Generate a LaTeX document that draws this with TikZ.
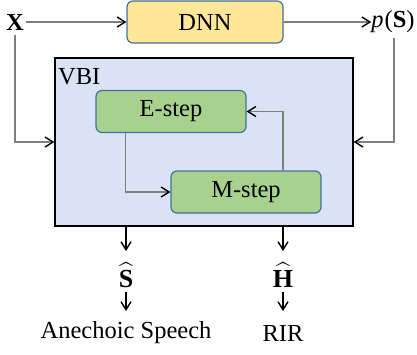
\documentclass[tikz,border=0pt]{standalone}
\usepackage{amsmath}
\usepackage{fontspec}
\setmainfont{Liberation Serif}
\usetikzlibrary{arrows.meta}

\definecolor{dnnfill}{HTML}{FFE699}
\definecolor{boxedge}{HTML}{41719C}
\definecolor{stepfill}{HTML}{A9D18E}
\definecolor{vbifill}{HTML}{DAE3F3}
\definecolor{wire}{HTML}{7F7F7F}

\tikzset{
  lbl/.style={font=\fontsize{24.5}{28}\selectfont, inner sep=0pt},
  hatlbl/.style={font=\fontsize{26}{28}\selectfont, inner sep=0pt},
  rbox/.style={lbl, draw=boxedge, line width=1.2pt, rounded corners=6pt},
  dnnbox/.style={rbox, fill=dnnfill, minimum width=156pt, minimum height=42pt},
  stepbox/.style={rbox, fill=stepfill, minimum width=150pt, minimum height=42pt},
  vbibox/.style={draw=black, line width=1.3pt, fill=vbifill,
    minimum width=298pt, minimum height=168pt, inner sep=0pt},
  tip/.style={-{Straight Barb[length=8pt,width=10pt,line width=1.4pt,color=black]}},
  wirearrow/.style={tip, draw=wire, line width=1.1pt},
  outarrow/.style={tip, draw=black, line width=1.1pt},
}

\begin{document}
\begin{tikzpicture}[x=1pt,y=-1pt]
  \useasboundingbox (0,0) rectangle (417,354);

  % input, network and prior
  \node[lbl] (x) at (15,22) {\textbf{X}};
  \node[dnnbox] (dnn) at (205,22) {DNN};
  \node[lbl] (ps) at (393,22) {\textit{p}\kern1pt(\textbf{S})};

  % variational Bayesian inference block
  \node[vbibox] (vbi) at (204,142) {};
  \node[lbl, anchor=north west] (vbilabel) at (58,68) {VBI};
  \node[stepbox] (estep) at (171,111.5) {E-step};
  \node[stepbox] (mstep) at (246,192) {M-step};

  % outputs
  \node[hatlbl] (shat) at (126,275) {$\widehat{\textbf{S}}$};
  \node[hatlbl] (hhat) at (283,275) {$\widehat{\textbf{H}}$};
  \node[lbl] (speech) at (126,333) {Anechoic Speech};
  \node[lbl] (rir) at (283,333) {RIR};

  \coordinate (sin) at (126,251);
  \coordinate (hin) at (283,251);
  \coordinate (sfrom) at (126,292);
  \coordinate (sto) at (126,311);
  \coordinate (hfrom) at (283,292);
  \coordinate (hto) at (283,311);

  % connectors
  \draw[wirearrow] ([xshift=2pt]x.east) -- (dnn.west);
  \draw[wirearrow] (dnn.east) -- (ps.west);
  \draw[wirearrow] ([yshift=-5pt]x.south) |- (vbi.west);
  \draw[wirearrow] ([xshift=1pt,yshift=-5pt]ps.south) |- (vbi.east);
  \draw[wirearrow] ([xshift=30pt]estep.south west) |- (mstep.west);
  \draw[wirearrow] ([xshift=37pt]mstep.north) |- (estep.east);

  \draw[outarrow] (vbi.south -| sin) -- (sin);
  \draw[outarrow] (vbi.south -| hin) -- (hin);
  \draw[outarrow] (sfrom) -- (sto);
  \draw[outarrow] (hfrom) -- (hto);
\end{tikzpicture}
\end{document}
